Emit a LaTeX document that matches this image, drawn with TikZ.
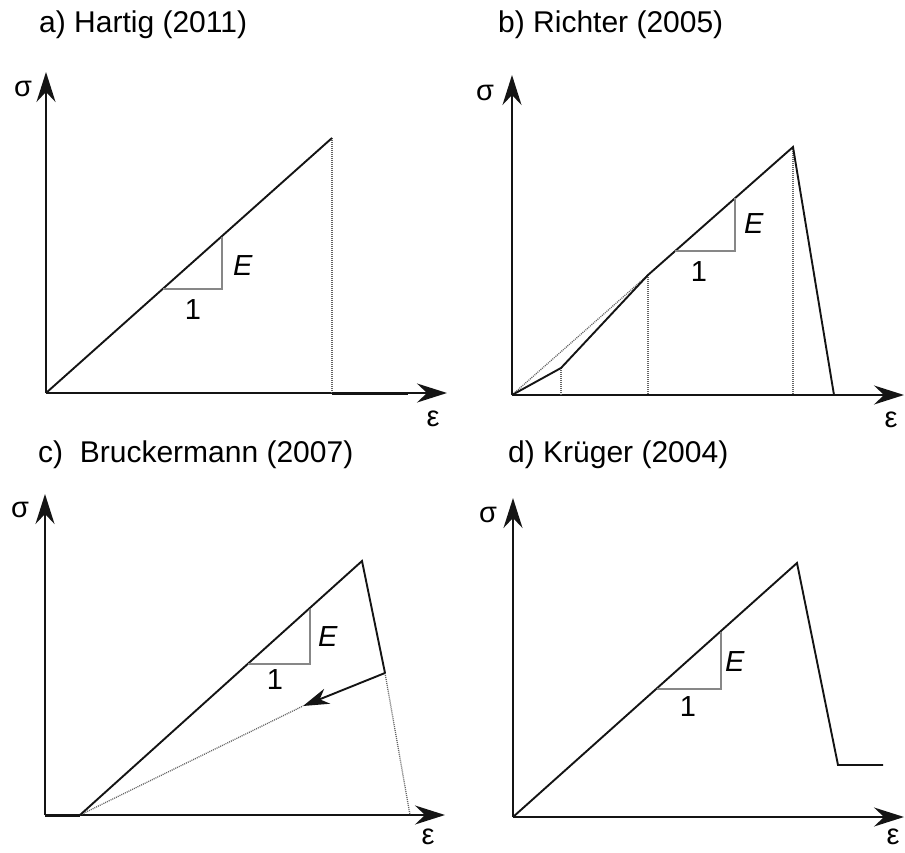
\documentclass[tikz,border=0pt]{standalone}
\usepackage{fontspec}
\setmainfont{Liberation Sans}
\usepackage{tikz}
\usetikzlibrary{arrows.meta,positioning,calc}
\definecolor{traitNoir}{RGB}{20,20,20}
\definecolor{grisPente}{RGB}{135,135,135}
\definecolor{grisPoint}{RGB}{100,100,100}

\begin{document}
\begin{tikzpicture}[x=1pt,y=-1pt,font=\fontsize{29}{34}\selectfont,
  axis/.style={draw=traitNoir,line width=1.9pt,-{Stealth[length=30pt,width=19pt,inset=10pt]}},
  curve/.style={draw=traitNoir,line width=1.9pt,line join=miter},
  aux/.style={draw=grisPoint,line width=1.3pt,dash pattern=on 1pt off 1pt},
  slope/.style={draw=grisPente,line width=1.4pt},
  ttl/.style={anchor=west,inner sep=0pt,font=\fontsize{30}{36}\selectfont},
  lbl/.style={inner sep=0pt}]

  \useasboundingbox (0,0) rectangle (905,853);

  % axes of the four panels
  \foreach \p/\ox/\oy/\ty/\xe in {a/46/393/72/447, b/512/395/75/904,
                                  c/45/815/494/445, d/513/817/498/904} {
    \coordinate (\p0) at (\ox,\oy);
    \coordinate (\p y) at (\ox,\ty);
    \coordinate (\p x) at (\xe,\oy);
    \draw[axis] (\p0)--(\p y);
    \draw[axis] (\p0)--(\p x);
  }

  \node[ttl] (ta) at (39,25)  {a) Hartig (2011)};
  \node[ttl] (tb) at (498,25) {b) Richter (2005)};
  \node[ttl] (tc) at (38,455) {c)\ \ Bruckermann (2007)};
  \node[ttl] (td) at (508,455) {d) Krüger (2004)};

  \node[lbl] (sa) at (23,89)   {σ};
  \node[lbl] (sb) at (485,93)  {σ};
  \node[lbl] (sc) at (20,510)  {σ};
  \node[lbl] (sd) at (488,515) {σ};
  \node[lbl] (ea) at (433,419) {ε};
  \node[lbl] (eb) at (891,420) {ε};
  \node[lbl] (ec) at (428,837) {ε};
  \node[lbl] (ed) at (893,837) {ε};

  % a) Hartig
  \coordinate (aP) at (332,138);
  \coordinate (aR) at (332,393);
  \coordinate (aS) at (408,393);
  \draw[aux] (aP)--(aR);
  \draw[curve] (a0)--(aP);
  \draw[curve,line width=3pt] (aR)--(aS);
  \draw[slope] (163,289)--(222,289)--(222,237);
  \node[lbl] (Ea) at (243,266) {\textit{E}};
  \node[lbl] (1a) at (193,310) {1};

  % b) Richter
  \coordinate (bK) at (561,368);
  \coordinate (bM) at (648,275);
  \coordinate (bP) at (793,147);
  \coordinate (bR) at (834,395);
  \draw[aux] (b0)--(bM);
  \foreach \c in {bK,bM,bP} {
    \draw[aux] (\c)--(\c |- b0);
  }
  \draw[curve] (b0)--(bK)--(bM)--(bP)--(bR);
  \draw[slope] (675,251)--(735,251)--(735,198);
  \node[lbl] (Eb) at (754,224) {\textit{E}};
  \node[lbl] (1b) at (699,272) {1};

  % c) Bruckermann
  \coordinate (cS) at (80,815);
  \coordinate (cP) at (362,561);
  \coordinate (cU) at (385,673);
  \coordinate (cT) at (303,706);
  \coordinate (cR) at (410,815);
  \draw[aux] (cS)--(cT);
  \draw[aux] (cU)--(cR);
  \draw[curve,line width=3pt] (c0)--(cS);
  \draw[curve] (cS)--(cP)--(cU);
  \draw[curve,-{Stealth[length=26pt,width=16pt,inset=8pt]}] (cU)--(cT);
  \draw[slope] (248,664)--(310,664)--(310,609);
  \node[lbl] (Ec) at (328,637) {\textit{E}};
  \node[lbl] (1c) at (275,680) {1};

  % d) Krueger
  \coordinate (dP) at (797,563);
  \coordinate (dL) at (838,765);
  \coordinate (dE) at (883,765);
  \draw[curve] (d0)--(dP)--(dL)--(dE);
  \draw[slope] (657,689)--(721,689)--(721,632);
  \node[lbl] (Ed) at (735,662) {\textit{E}};
  \node[lbl] (1d) at (688,707) {1};
\end{tikzpicture}
\end{document}
